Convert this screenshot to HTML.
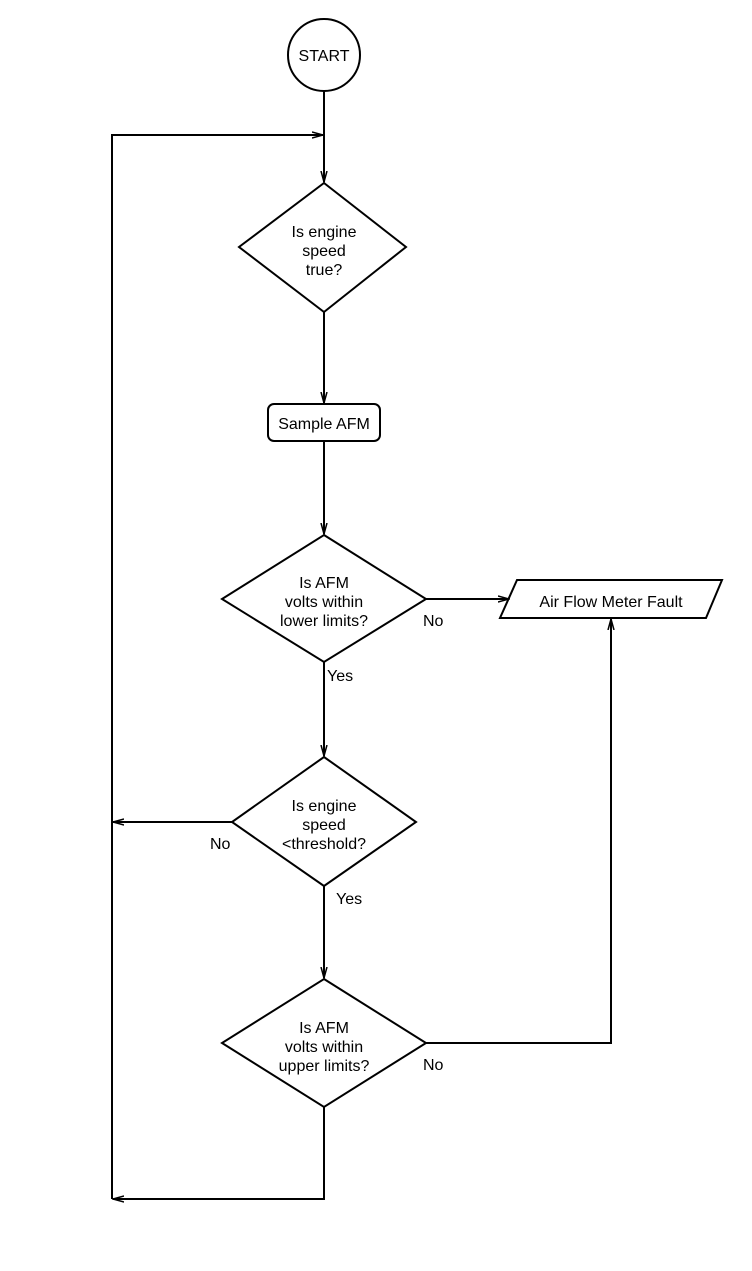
<!DOCTYPE html>
<html><head><style>html,body{margin:0;padding:0;background:#fff}</style></head><body>
<svg width="752" height="1266" viewBox="0 0 752 1266" xmlns="http://www.w3.org/2000/svg" font-family="Liberation Sans, sans-serif" font-size="16" fill="none" stroke="#000" stroke-width="2">
<defs><marker id="a" markerWidth="12" markerHeight="8" refX="11" refY="4" orient="auto" markerUnits="userSpaceOnUse"><path d="M0,1 L11,4 L0,7" fill="none" stroke="#000" stroke-width="1.5"/></marker></defs>
<circle cx="324" cy="55" r="36"/>
<line x1="324" y1="91" x2="324" y2="182" marker-end="url(#a)"/>
<polyline points="112,1199 112,135 323,135" marker-end="url(#a)"/>
<polygon points="324,183 406,247 324,312 239,247"/>
<line x1="324" y1="312" x2="324" y2="403" marker-end="url(#a)"/>
<rect x="268" y="404" width="112" height="37" rx="6"/>
<line x1="324" y1="441" x2="324" y2="534" marker-end="url(#a)"/>
<polygon points="324,535 426,599 324,662 222,599"/>
<line x1="426" y1="599" x2="509" y2="599" marker-end="url(#a)"/>
<polygon points="517,580 722,580 706,618 500,618"/>
<line x1="324" y1="662" x2="324" y2="756" marker-end="url(#a)"/>
<polygon points="324,757 416,822 324,886 232,822"/>
<line x1="232" y1="822" x2="113" y2="822" marker-end="url(#a)"/>
<line x1="324" y1="886" x2="324" y2="978" marker-end="url(#a)"/>
<polygon points="324,979 426,1043 324,1107 222,1043"/>
<polyline points="426,1043 611,1043 611,619" marker-end="url(#a)"/>
<polyline points="324,1107 324,1199 113,1199" marker-end="url(#a)"/>
<g fill="#000" stroke="none" text-anchor="middle">
<text x="324" y="61">START</text>
<text x="324" y="237">Is engine</text><text x="324" y="256">speed</text><text x="324" y="275">true?</text>
<text x="324" y="429">Sample AFM</text>
<text x="324" y="588">Is AFM</text><text x="324" y="607">volts within</text><text x="324" y="626">lower limits?</text>
<text x="611" y="607">Air Flow Meter Fault</text>
<text x="324" y="811">Is engine</text><text x="324" y="830">speed</text><text x="324" y="849">&lt;threshold?</text>
<text x="324" y="1033">Is AFM</text><text x="324" y="1052">volts within</text><text x="324" y="1071">upper limits?</text>
</g>
<g fill="#000" stroke="none">
<text x="423" y="626">No</text><text x="327" y="681">Yes</text>
<text x="210" y="849">No</text><text x="336" y="904">Yes</text>
<text x="423" y="1070">No</text>
</g>
</svg>
</body></html>
